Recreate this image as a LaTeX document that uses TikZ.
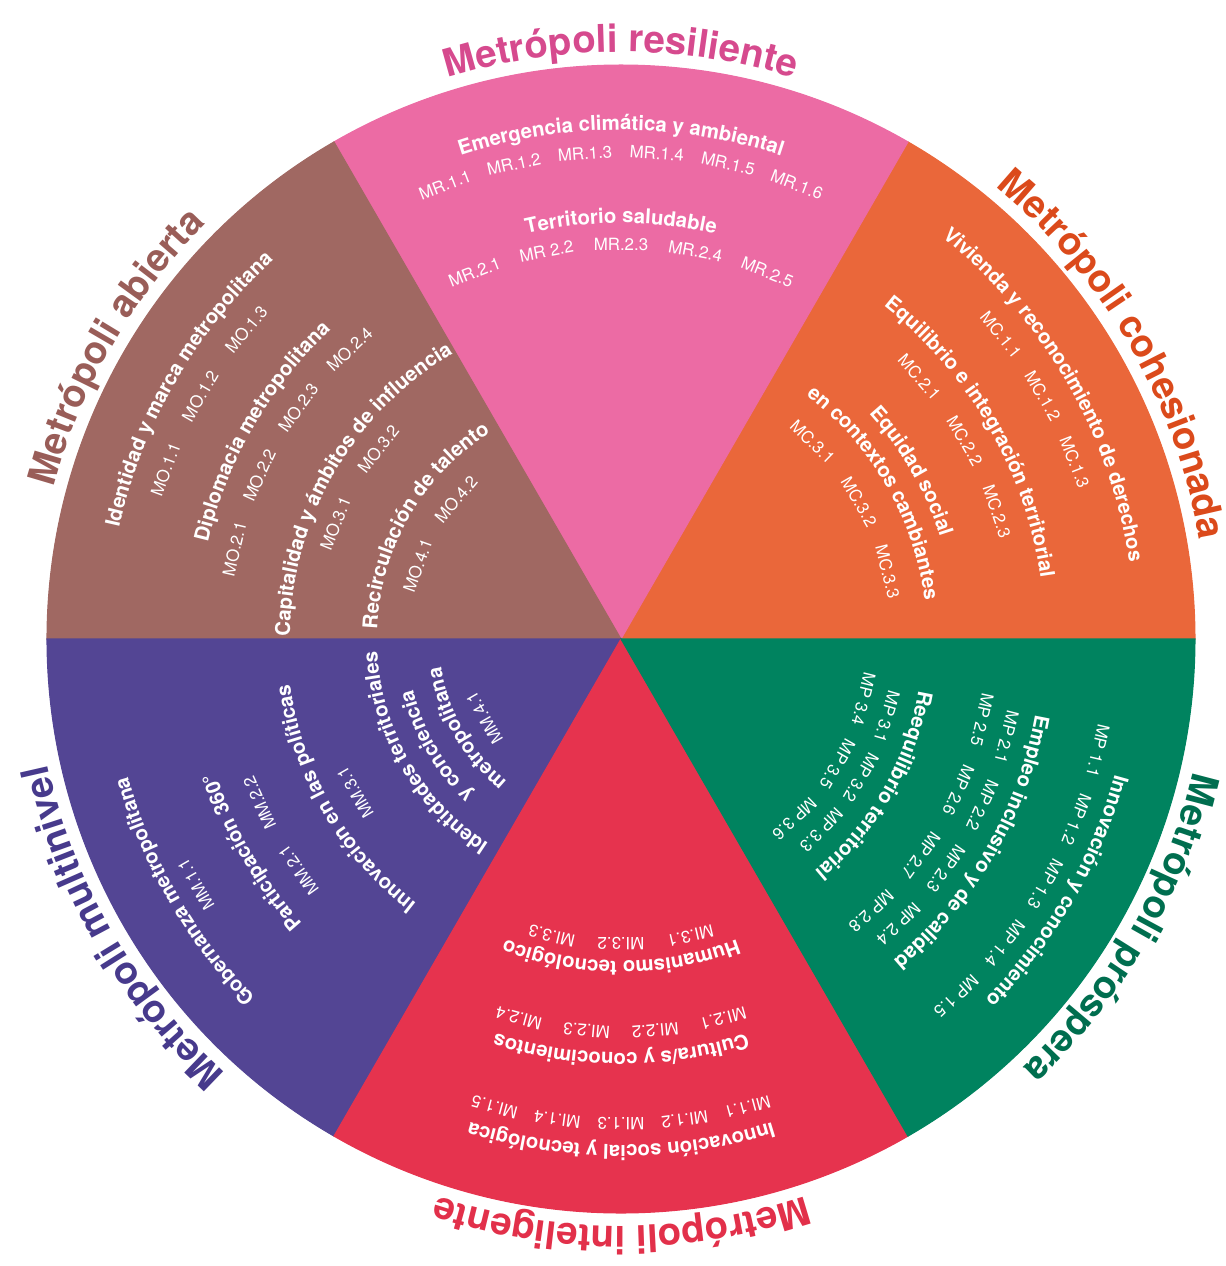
\documentclass[tikz,border=0pt]{standalone}
\usepackage{fontspec}
\setmainfont{TeX Gyre Heros}
\usepackage{tikz}
\usetikzlibrary{decorations.text}

\definecolor{resil}{HTML}{EC6BA4}
\definecolor{cohes}{HTML}{EA673A}
\definecolor{prosp}{HTML}{00835F}
\definecolor{intel}{HTML}{E6334E}
\definecolor{multi}{HTML}{534594}
\definecolor{abier}{HTML}{A06862}
\definecolor{resilT}{HTML}{D64A8E}
\definecolor{cohesT}{HTML}{DB4A1B}
\definecolor{prospT}{HTML}{006E4F}
\definecolor{intelT}{HTML}{E2304A}
\definecolor{multiT}{HTML}{473A8C}
\definecolor{abierT}{HTML}{995D58}

\newcommand\lblfont{\fontsize{10.9}{12}\selectfont\bfseries}
\newcommand\ttlfont{\fontsize{5.8}{7}\selectfont\bfseries\color{white}}
\newcommand\codefont{\fontsize{4.8}{6}\selectfont}

\newcommand\arctext[4]{%
  \path[decorate, decoration={text along path, text align=center, text={|#1|#4}}]
    (#2+85:#3) arc[start angle=#2+85, end angle=#2-85, radius=#3];}

\newcommand\arccodes[5]{%
  \foreach \cname [count=\n] in {#5} {\xdef\ncodes{\n}}%
  \foreach \cname [count=\idx] in {#5} {%
    \pgfmathsetmacro\angl{#2+((\ncodes+1)/2-\idx)*#4/#3*180/pi}%
    \node[code, rotate=\angl-90] (#1-\idx) at (\angl:#3) {\cname};}}

\begin{document}
\begin{tikzpicture}[
  code/.style={font=\codefont, text=white, inner sep=0pt}
]
  \useasboundingbox (-6.21,-6.27) rectangle (6.05,6.39);
  \def\R{5.74}
  \foreach \ang/\col in {0/cohes,60/resil,120/abier,180/multi,240/intel,300/prosp} {
    \filldraw[fill=\col, draw=\col, line width=0.3pt]
      (0,0) -- (\ang:\R) arc[start angle=\ang, end angle=\ang+60, radius=\R] -- cycle;
  }

  \arctext{\lblfont\color{resilT}}{90}{5.87}{Metrópoli resiliente}
  \arctext{\lblfont\color{cohesT}}{30}{5.87}{Metrópoli cohesionada}
  \arctext{\lblfont\color{prospT}}{330}{5.87}{Metrópoli próspera}
  \arctext{\lblfont\color{intelT}}{270}{5.87}{Metrópoli inteligente}
  \arctext{\lblfont\color{multiT}}{210}{5.87}{Metrópoli multinivel}
  \arctext{\lblfont\color{abierT}}{150}{5.87}{Metrópoli abierta}

  \arctext{\ttlfont}{90}{5.09}{Emergencia climática y ambiental}
  \arccodes{mr1}{90}{4.87}{0.72}{MR.1.1,MR.1.2,MR.1.3,MR.1.4,MR.1.5,MR.1.6}
  \arctext{\ttlfont}{90}{4.16}{Territorio saludable}
  \arccodes{mr2}{90}{3.95}{0.75}{MR.2.1,MR 2.2,MR.2.3,MR.2.4,MR.2.5}

  \arctext{\ttlfont}{30}{5.14}{Vivienda y reconocimiento de derechos}
  \arccodes{mc1}{30}{4.87}{0.74}{MC.1.1,MC.1.2,MC.1.3}
  \arctext{\ttlfont}{30}{4.24}{Equilibrio e integración territorial}
  \arccodes{mc2}{30}{3.97}{0.78}{MC.2.1,MC.2.2,MC.2.3}
  \arctext{\ttlfont}{30}{3.35}{Equidad social}
  \arctext{\ttlfont}{30}{3.06}{en contextos cambiantes}
  \arccodes{mc3}{30}{2.75}{0.76}{MC.3.1,MC.3.2,MC.3.3}

  \arctext{\ttlfont}{330}{5.12}{Innovación y conocimiento}
  \arccodes{mp1}{330}{4.90}{0.72}{MP 1.1,MP 1.2,MP 1.3,MP 1.4,MP 1.5}
  \arctext{\ttlfont}{330}{4.21}{Empleo inclusivo y de calidad}
  \arccodes{mp2a}{330}{3.98}{0.73}{MP 2.1,MP 2.2,MP 2.3,MP 2.4}
  \arccodes{mp2b}{330}{3.70}{0.75}{MP 2.5,MP 2.6,MP 2.7,MP 2.8}
  \arctext{\ttlfont}{330}{3.02}{Reequilibrio territorial}
  \arccodes{mp3a}{330}{2.77}{0.66}{MP 3.1,MP 3.2,MP 3.3}
  \arccodes{mp3b}{330}{2.50}{0.70}{MP 3.4,MP 3.5,MP 3.6}

  \arctext{\ttlfont}{270}{5.06}{Innovación social y tecnológica}
  \arccodes{mi1}{270}{4.85}{0.64}{MI.1.1,MI.1.2,MI.1.3,MI.1.4,MI.1.5}
  \arctext{\ttlfont}{270}{4.14}{Cultura/s y conocimientos}
  \arccodes{mi2}{270}{3.93}{0.69}{MI.2.1,MI.2.2,MI.2.3,MI.2.4}
  \arctext{\ttlfont}{270}{3.22}{Humanismo tecnológico}
  \arccodes{mi3}{270}{3.05}{0.70}{MI.3.1,MI.3.2,MI.3.3}

  \arctext{\ttlfont}{210}{5.12}{Gobernanza metropolitana}
  \arccodes{mm1}{210}{4.91}{0.78}{MM.1.1}
  \arctext{\ttlfont}{210}{4.27}{Participación 360°}
  \arccodes{mm2}{210}{3.97}{0.78}{MM.2.1,MM.2.2}
  \arctext{\ttlfont}{210}{3.34}{Innovación en las políticas}
  \arccodes{mm3}{210}{3.07}{0.78}{MM.3.1}
  \arctext{\ttlfont}{210}{2.44}{Identidades territoriales}
  \arctext{\ttlfont}{210}{2.14}{y conciencia}
  \arctext{\ttlfont}{210}{1.82}{metropolitana}
  \arccodes{mm4}{210}{1.58}{0.78}{MM.4.1}

  \arctext{\ttlfont}{150}{5.14}{Identidad y marca metropolitana}
  \arccodes{mo1}{150}{4.86}{0.81}{MO.1.1,MO.1.2,MO.1.3}
  \arctext{\ttlfont}{150}{4.24}{Diplomacia metropolitana}
  \arccodes{mo2}{150}{3.97}{0.78}{MO.2.1,MO.2.2,MO.2.3,MO.2.4}
  \arctext{\ttlfont}{150}{3.31}{Capitalidad y ámbitos de influencia}
  \arccodes{mo3}{150}{3.08}{0.86}{MO.3.1,MO.3.2}
  \arctext{\ttlfont}{150}{2.44}{Recirculación de talento}
  \arccodes{mo4}{150}{2.16}{0.77}{MO.4.1,MO.4.2}
\end{tikzpicture}
\end{document}
